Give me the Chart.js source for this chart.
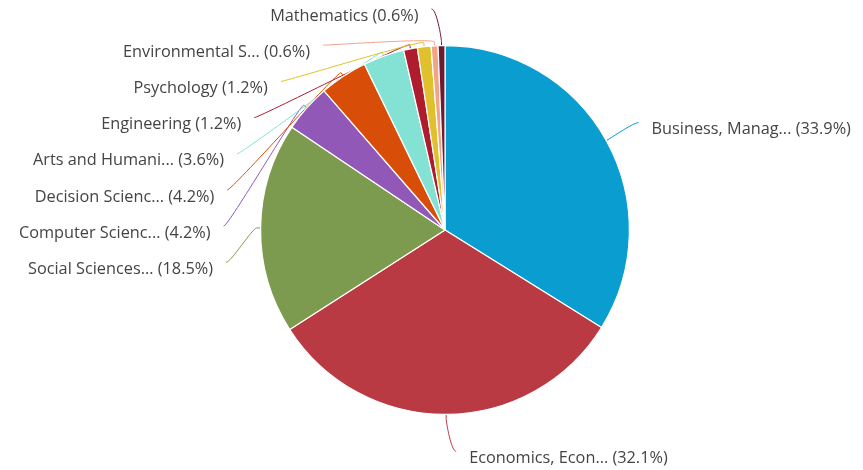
<!DOCTYPE html>
<html>
<head>
<meta charset="utf-8">
<title>Documents by subject area</title>
<script src="https://cdn.jsdelivr.net/npm/chart.js@4.4.1/dist/chart.umd.min.js"></script>
<style>
	html, body { margin: 0; padding: 0; background: #fff; }
	#wrap { width: 863px; height: 470px; }
</style>
</head>
<body>
<div id="wrap"><canvas id="pie" width="863" height="470"></canvas></div>
<script>
// Subject areas, clockwise from 12 o'clock
const subjects = [
	"Business, Manag...",
	"Economics, Econ...",
	"Social Sciences...",
	"Computer Scienc...",
	"Decision Scienc...",
	"Arts and Humani...",
	"Engineering",
	"Psychology",
	"Environmental S...",
	"Mathematics",
];
const shares = [33.9, 32.1, 18.5, 4.2, 4.2, 3.6, 1.2, 1.2, 0.6, 0.6];
const sliceColors = [
	"#0a9dcf", "#b93a42", "#7d9b4e", "#9158b8", "#d84e08",
	"#84e2d5", "#ae1c2e", "#e0c02c", "#f1a486", "#6d1b33",
];

const LABEL_DIST = 37;   // label anchor distance beyond the rim
const ROW = 36.2;        // min vertical gap between labels on one side
const TOP = 9;

// Highcharts-style outside labels with soft connectors
const outsideLabels = {
	id: "outsideLabels",
	layout(chart) {
		const arcs = chart.getDatasetMeta(0).data;
		const cx = arcs[0].x, cy = arcs[0].y, r = arcs[0].outerRadius;
		const R = r + LABEL_DIST;
		const items = arcs.map((arc, i) => {
			const a = (arc.startAngle + arc.endAngle) / 2;
			return {
				i, a, left: Math.cos(a) < 0,
				y: cy + R * Math.sin(a),
				edge: { x: cx + r * Math.cos(a), y: cy + r * Math.sin(a) },
				brk: { x: cx + (r + 4) * Math.cos(a), y: cy + (r + 4) * Math.sin(a) },
			};
		});
		[true, false].forEach((side) => {
			const list = items.filter((d) => d.left === side).sort((p, q) => p.y - q.y);
			let prev = TOP - ROW;
			list.forEach((d) => {
				d.y = Math.max(d.y, prev + ROW);
				prev = d.y;
			});
		});
		items.forEach((d) => {
			const dy = d.y - cy;
			const sign = d.left ? -1 : 1;
			if (Math.abs(dy) > r + 20) d.x = d.edge.x + sign * 10;
			else d.x = cx + sign * Math.sqrt(Math.max(R * R - dy * dy, 0));
		});
		return items;
	},
	beforeDatasetsDraw(chart) {
		const ctx = chart.ctx;
		this.items = this.layout(chart);
		ctx.save();
		ctx.lineWidth = 1;
		this.items.forEach((d) => {
			const sign = d.left ? 1 : -1;
			ctx.strokeStyle = sliceColors[d.i];
			ctx.beginPath();
			ctx.moveTo(d.x, d.y);
			ctx.bezierCurveTo(d.x + sign * 5, d.y, 2 * d.brk.x - d.edge.x, 2 * d.brk.y - d.edge.y, d.brk.x, d.brk.y);
			ctx.lineTo(d.edge.x, d.edge.y);
			ctx.stroke();
		});
		ctx.restore();
	},
	afterDatasetsDraw(chart) {
		const ctx = chart.ctx;
		ctx.save();
		ctx.font = "16.3px 'Open Sans'";
		ctx.fillStyle = "#444";
		ctx.textBaseline = "middle";
		this.items.forEach((d) => {
			const text = `${subjects[d.i]} (${shares[d.i]}%)`;
			ctx.textAlign = d.left ? "right" : "left";
			ctx.fillText(text, d.x + (d.left ? -13 : 13), d.y + 7);
		});
		ctx.restore();
	},
};

new Chart(document.getElementById("pie"), {
	type: "pie",
	data: {
		labels: subjects,
		datasets: [
			{
				data: shares,
				backgroundColor: sliceColors,
				borderColor: "#fff",
				borderWidth: 1.2,
			},
		],
	},
	options: {
		responsive: false,
		animation: false,
		layout: { padding: { left: 260, right: 233, top: 45, bottom: 55 } },
		plugins: {
			legend: { display: false },
			tooltip: { enabled: false },
		},
	},
	plugins: [outsideLabels],
});
</script>
</body>
</html>
